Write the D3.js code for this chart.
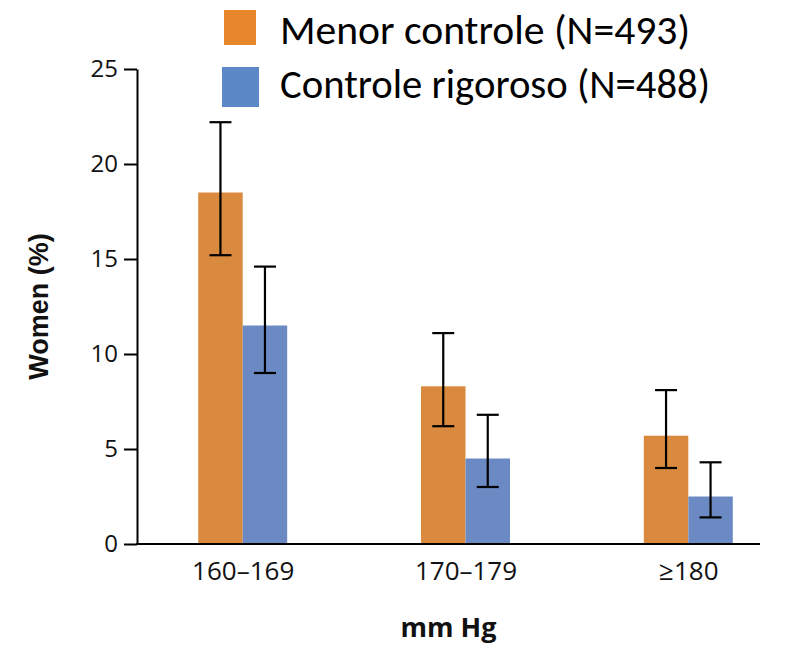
<!DOCTYPE html>
<html>
<head>
<meta charset="utf-8">
<script src="https://cdn.jsdelivr.net/npm/d3@7"></script>
<style>
  html, body { margin: 0; padding: 0; background: #fff; }
  svg { display: block; }
</style>
</head>
<body>
<svg id="chart" width="800" height="645"></svg>
<script>
// ---- data ----
const categories = ["160\u2013169", "170\u2013179", "\u2265180"];
const seriesNames = ["Menor controle (N=493)", "Controle rigoroso (N=488)"];
const menorValues = [18.5, 8.3, 5.7];
const menorLow = [15.2, 6.2, 4.0];
const menorHigh = [22.2, 11.1, 8.1];
const rigorosoValues = [11.5, 4.5, 2.5];
const rigorosoLow = [9.0, 3.0, 1.4];
const rigorosoHigh = [14.6, 6.8, 4.3];
const yTicks = [0, 5, 10, 15, 20, 25];
const yLabel = "Women (%)";
const xLabel = "mm Hg";

const barColors = ["#D98A3E", "#6B8AC3"];
const legendColors = ["#E8862B", "#5D88C7"];

const rows = categories.map((c, i) => ({
  cat: c,
  vals: [
    { s: seriesNames[0], v: menorValues[i], lo: menorLow[i], hi: menorHigh[i], k: 0 },
    { s: seriesNames[1], v: rigorosoValues[i], lo: rigorosoLow[i], hi: rigorosoHigh[i], k: 1 }
  ]
}));

const svg = d3.select("#chart");
const axisLeftX = 137, axisRightX = 760;
const y = d3.scaleLinear().domain([0, 25]).range([544, 69]);
const xc = d3.scalePoint().domain(categories).range([242.7, 688.3]);
const xs = d3.scaleBand().domain(seriesNames).range([-44.5, 44.5]).padding(0);

// bars
const g = svg.append("g");
const groups = g.selectAll("g.grp").data(rows).join("g")
  .attr("transform", d => `translate(${xc(d.cat)},0)`);
groups.selectAll("rect").data(d => d.vals).join("rect")
  .attr("x", d => xs(d.s))
  .attr("width", xs.bandwidth())
  .attr("y", d => y(d.v))
  .attr("height", d => y(0) - y(d.v))
  .attr("fill", d => barColors[d.k]);

// error bars
const capW = 11;
const eb = groups.selectAll("g.eb").data(d => d.vals).join("g")
  .attr("transform", d => `translate(${xs(d.s) + xs.bandwidth() / 2},0)`)
  .attr("stroke", "#000").attr("stroke-width", 2.2);
eb.append("line").attr("x1", 0).attr("x2", 0).attr("y1", d => y(d.hi)).attr("y2", d => y(d.lo));
eb.append("line").attr("x1", -capW).attr("x2", capW).attr("y1", d => y(d.hi)).attr("y2", d => y(d.hi));
eb.append("line").attr("x1", -capW).attr("x2", capW).attr("y1", d => y(d.lo)).attr("y2", d => y(d.lo));

// y axis
const yAxis = svg.append("g")
  .attr("transform", `translate(${axisLeftX},0)`)
  .call(d3.axisLeft(y).tickValues(yTicks).tickSize(13).tickPadding(6).tickSizeOuter(0));
yAxis.select(".domain").attr("stroke", "#000").attr("stroke-width", 2);
yAxis.selectAll(".tick line").attr("stroke", "#000").attr("stroke-width", 2);
yAxis.selectAll(".tick text")
  .attr("font-family", "'Open Sans', 'Noto Sans', sans-serif")
  .attr("font-size", 24).attr("fill", "#111");

// x axis
const xAxis = svg.append("g")
  .attr("transform", `translate(0,${y(0)})`)
  .call(d3.axisBottom(xc).tickSize(0).tickPadding(18));
xAxis.select(".domain").remove();
xAxis.append("line").attr("x1", axisLeftX - 1).attr("x2", axisRightX)
  .attr("y1", 0).attr("y2", 0).attr("stroke", "#000").attr("stroke-width", 2);
xAxis.selectAll(".tick text")
  .attr("font-family", "'Open Sans', 'Noto Sans', sans-serif")
  .attr("font-size", 26).attr("fill", "#111");

// axis titles
svg.append("text")
  .attr("x", (axisLeftX + axisRightX) / 2).attr("y", 637)
  .attr("text-anchor", "middle")
  .attr("font-family", "'Open Sans', 'Noto Sans', sans-serif")
  .attr("font-weight", "bold").attr("font-size", 27).attr("fill", "#111")
  .text(xLabel);
svg.append("text")
  .attr("transform", `translate(48,${(y(0) + y(25)) / 2}) rotate(-90)`)
  .attr("text-anchor", "middle")
  .attr("font-family", "'Liberation Sans', Arial, sans-serif")
  .attr("font-weight", "bold").attr("font-size", 27).attr("fill", "#111")
  .text(yLabel);

// legend
const legend = svg.append("g");
const legItems = [
  { x: 224, y: 10, w: 32, h: 35, ty: 44, tl: 410 },
  { x: 222, y: 67, w: 37, h: 40, ty: 98, tl: 430 }
];
seriesNames.forEach((name, i) => {
  const it = legItems[i];
  legend.append("rect").attr("x", it.x).attr("y", it.y).attr("width", it.w).attr("height", it.h)
    .attr("fill", legendColors[i]);
  legend.append("text").attr("x", 280).attr("y", it.ty)
    .attr("font-family", "Calibri, Carlito, 'Liberation Sans', Arial, sans-serif")
    .attr("font-size", 41).attr("fill", "#000")
    .attr("textLength", it.tl).attr("lengthAdjust", "spacingAndGlyphs")
    .text(name);
});
</script>
</body>
</html>
